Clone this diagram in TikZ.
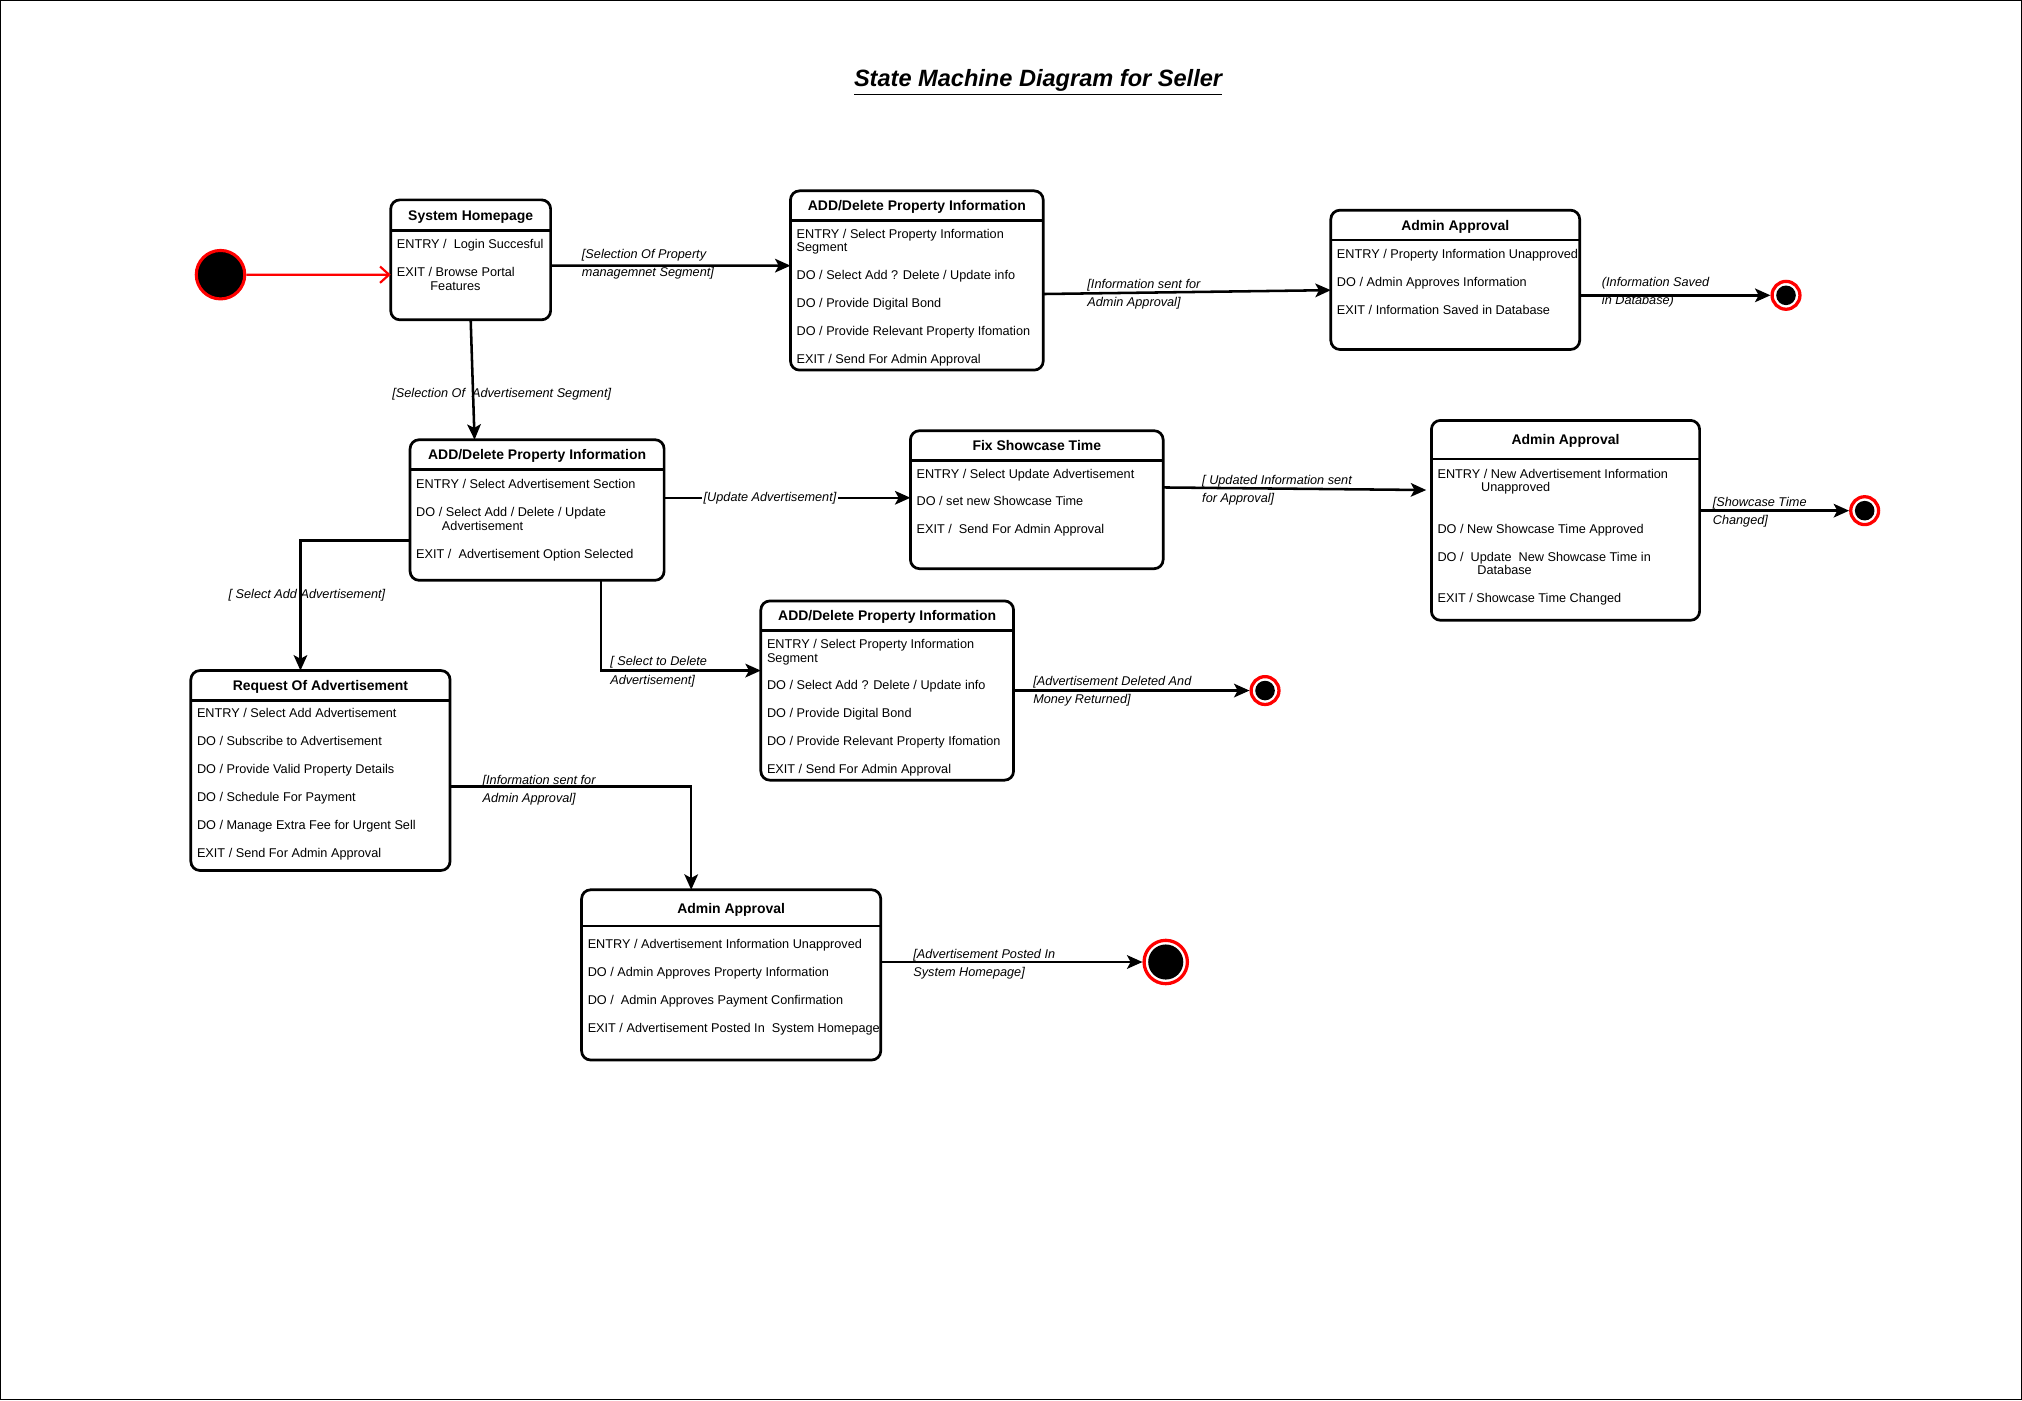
\documentclass[tikz,border=0pt]{standalone}
\usepackage{fontspec}
\setmainfont{Liberation Sans}
\usepackage{tikz}
\usetikzlibrary{calc,arrows.meta,positioning}

\begin{document}
\begin{tikzpicture}[x=0.025cm, y=-0.025cm,
    statebox/.style={draw, rounded corners=5pt, line width=1.5pt, anchor=north west, inner sep=0pt, outer sep=0pt},
    stitle/.style={font=\fontsize{7.7}{9}\selectfont\bfseries, anchor=base, inner sep=0pt},
    sbody/.style={font=\fontsize{7}{7.6}\selectfont, align=left, anchor=north west, inner sep=0pt},
    guard/.style={font=\fontsize{7}{10}\selectfont\itshape, align=left, anchor=north west, inner sep=0pt},
    trans/.style={line width=1.4pt, -{Stealth[length=8.5pt, width=7.5pt, inset=2pt]}},
    endstate/.style={circle, draw=red, line width=1.8pt, fill=white, inner sep=0pt, minimum size=0.54cm,
      path picture={\fill[black] (path picture bounding box.center) circle (0.19cm);}},
    bigend/.style={circle, draw=red, line width=1.8pt, fill=white, inner sep=0pt, minimum size=0.84cm,
      path picture={\fill[black] (path picture bounding box.center) circle (0.34cm);}}]
  \useasboundingbox (0,0) rectangle (1568,1086);
  \draw[line width=0.55pt] (0.4,0.4) rectangle (1567.6,1085.6);

  \node[font=\fontsize{13}{15}\selectfont\bfseries\itshape] (title) at (805,64)
    {\underline{State Machine Diagram for Seller}};

  % states: frame, title and separator
  \foreach \n/\x/\y/\w/\h/\s/\ttl in {
      sh/303/155/124/93/24/{System Homepage},
      ap1/613/148/196/139/23/{ADD/Delete Property Information},
      aa1/1032/163/193/108/23/{Admin Approval},
      ad/318/341/197/109/23/{ADD/Delete Property Information},
      fs/706/334/196/107/23/{Fix Showcase Time},
      aa2/1110/326/208/155/30/{Admin Approval},
      ra/148/520/201/155/23/{Request Of Advertisement},
      ap2/590/466/196/139/23/{ADD/Delete Property Information},
      aa3/451/690/232/132/28/{Admin Approval}} {
    \node[statebox, minimum width=\w*0.025cm, minimum height=\h*0.025cm] (\n) at (\x,\y) {};
    \draw[line width=1.5pt] ($(\n.north west)+(0,\s)$) -- ($(\n.north east)+(0,\s)$);
    \node[stitle] (\n-t) at ($(\n.north)+(0,\s/2+4)$) {\ttl};
  }

  % activities
  \node[sbody] (sh-b) at ($(sh.north west)+(4.5,30.3)$)
    {ENTRY /~ Login Succesful\\[7.8pt]EXIT / Browse Portal\\\hspace*{18.5pt}Features};
  \node[sbody] (ap1-b) at ($(ap1.north west)+(4.5,29.3)$)
    {ENTRY / Select Property Information\\Segment\\[7.8pt]DO / Select Add ? Delete / Update info\\[7.8pt]DO / Provide Digital Bond\\[7.8pt]DO / Provide Relevant Property Ifomation\\[7.8pt]EXIT / Send For Admin Approval};
  \node[sbody] (aa1-b) at ($(aa1.north west)+(4.5,30.3)$)
    {ENTRY / Property Information Unapproved\\[7.8pt]DO / Admin Approves Information\\[7.8pt]EXIT / Information Saved in Database};
  \node[sbody] (ad-b) at ($(ad.north west)+(4.5,30.3)$)
    {ENTRY / Select Advertisement Section\\[7.8pt]DO / Select Add / Delete / Update\\\hspace*{14.2pt}Advertisement\\[7.8pt]EXIT /~ Advertisement Option Selected};
  \node[sbody] (fs-b) at ($(fs.north west)+(4.5,29.3)$)
    {ENTRY / Select Update Advertisement\\[7.8pt]DO / set new Showcase Time\\[7.8pt]EXIT /~ Send For Admin Approval};
  \node[sbody] (aa2-b) at ($(aa2.north west)+(4.5,37.3)$)
    {ENTRY / New Advertisement Information\\\hspace*{24pt}Unapproved\\[15.2pt]DO / New Showcase Time Approved\\[7.8pt]DO /~ Update~ New Showcase Time in\\\hspace*{22pt}Database\\[7.8pt]EXIT / Showcase Time Changed};
  \node[sbody] (ra-b) at ($(ra.north west)+(4.5,29.3)$)
    {ENTRY / Select Add Advertisement\\[7.8pt]DO / Subscribe to Advertisement\\[7.8pt]DO / Provide Valid Property Details\\[7.8pt]DO / Schedule For Payment\\[7.8pt]DO / Manage Extra Fee for Urgent Sell\\[7.8pt]EXIT / Send For Admin Approval};
  \node[sbody] (ap2-b) at ($(ap2.north west)+(4.5,29.3)$)
    {ENTRY / Select Property Information\\Segment\\[7.8pt]DO / Select Add ? Delete / Update info\\[7.8pt]DO / Provide Digital Bond\\[7.8pt]DO / Provide Relevant Property Ifomation\\[7.8pt]EXIT / Send For Admin Approval};
  \node[sbody] (aa3-b) at ($(aa3.north west)+(4.5,38.3)$)
    {ENTRY / Advertisement Information Unapproved\\[7.8pt]DO / Admin Approves Property Information\\[7.8pt]DO /~ Admin Approves Payment Confirmation\\[7.8pt]EXIT / Advertisement Posted In~ System Homepage};

  % initial and final states
  \node[circle, draw=red, fill=black, line width=1.7pt, minimum size=0.94cm, inner sep=0pt] (init) at (171,213) {};
  \node[endstate] (f1) at (1385,229) {};
  \node[endstate] (f2) at (1446,396) {};
  \node[endstate] (f3) at (981,535.5) {};
  \node[bigend] (f4) at (904,746) {};

  % transitions
  \draw[line width=1.2pt, red, -{Straight Barb[length=5pt, width=9pt]}] (init) -- ($(sh.west)+(0,11.5)$);
  \draw[trans] ($(sh.east)+(0,4.5)$) -- ($(ap1.west)+(0,-11.5)$);
  \draw[trans] ($(ap1.east)+(0,10.5)$) -- ($(aa1.west)+(0,8)$);
  \draw[trans] ($(aa1.east)+(0,12)$) -- (f1);
  \draw[trans] (sh.south) -- ($(ad.north)+(-48.5,0)$);
  \draw[trans] ($(ad.east)+(0,-9.5)$) -- node[guard, pos=0.43, anchor=center, fill=white, inner sep=1pt] (g-upd) {[Update Advertisement]} ($(fs.west)+(0,-1.5)$);
  \draw[trans] ($(fs.east)+(0,-9.5)$) -- ($(aa2.west)+(-4,-23.5)$);
  \draw[trans] ($(aa2.east)+(0,-7.5)$) -- (f2);
  \draw[trans] ($(ad.west)+(0,23.5)$) -| ($(ra.north)+(-15.5,0)$);
  \draw[trans] ($(ad.south)+(49.5,0)$) |- ($(ap2.west)+(0,-15.5)$);
  \draw[trans] (ap2.east) -- (f3);
  \draw[trans] ($(ra.east)+(0,12.5)$) -| ($(aa3.north)+(-31,0)$);
  \draw[trans] ($(aa3.east)+(0,-10)$) -- (f4);

  % guards
  \foreach \n/\x/\y/\ttl in {
      prop/451/197/{[Selection Of Property\\managemnet Segment]},
      sent/843/220/{[Information sent for\\Admin Approval]},
      saved/1242/219/{(Information Saved\\in Database)},
      advseg/304/305/{[Selection Of~ Advertisement Segment]},
      updsent/932/372/{[ Updated Information sent\\for Approval]},
      changed/1328/389/{[Showcase Time\\Changed]},
      addadv/177/461/{[ Select Add Advertisement]},
      deladv/473/513/{[ Select to Delete\\Advertisement]},
      deleted/801/528/{[Advertisement Deleted And\\Money Returned]},
      sent2/374/605/{[Information sent for\\Admin Approval]},
      posted/708/740/{[Advertisement Posted In\\System Homepage]}} {
    \node[guard] (g-\n) at (\x,\y-4) {\ttl};
  }
\end{tikzpicture}
\end{document}
